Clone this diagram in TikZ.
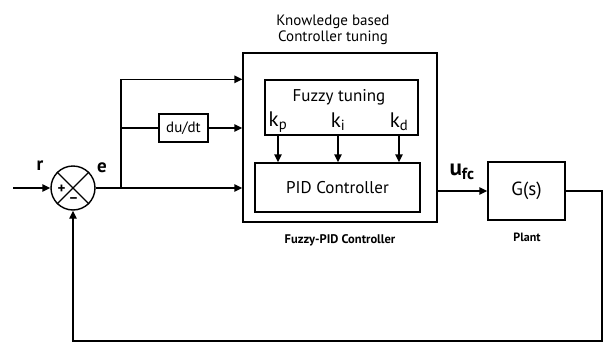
\documentclass[tikz,border=0pt]{standalone}
\usepackage{fontspec}
\setmainfont{PT Sans}
\usetikzlibrary{arrows.meta,calc}
\begin{document}
\begin{tikzpicture}[x=1pt,y=-1pt,
  blk/.style={draw,line width=1.4pt,inner sep=0pt,rectangle},
  conn/.style={line width=1.4pt},
  arr/.style={conn,-{Triangle[length=8pt,width=7.5pt]}},
  txt/.style={inner sep=0pt}]
\useasboundingbox (0,0) rectangle (608,343);
% blocks
\node[blk,minimum width=194pt,minimum height=169pt] (big) at (340,137.5) {};
\node[blk,minimum width=153pt,minimum height=55pt] (fuzzy) at (341.5,107.5) {};
\node[txt,font=\fontsize{17}{19}\selectfont] (fuzzyt) at (339,97) {Fuzzy tuning};
\node[blk,minimum width=165pt,minimum height=49pt,font=\fontsize{17}{19}\selectfont] (pid) at (337.5,187.5) {PID Controller};
\node[blk,minimum width=49pt,minimum height=28pt,font=\fontsize{15}{17}\selectfont] (dudt) at (183.5,128) {du/dt};
\node[blk,minimum width=77pt,minimum height=58pt,font=\fontsize{19}{21}\selectfont] (G) at (526.5,191) {G(s)};
\node[draw,circle,line width=1.4pt,minimum size=44pt,inner sep=0pt] (sum) at (73,188) {};
\draw[conn] (sum.north east) -- (sum.south west);
\draw[conn] (sum.north west) -- (sum.south east);
\node[txt,font=\fontsize{15}{17}\selectfont\bfseries] (plus) at (61.5,189) {+};
\node[txt,font=\fontsize{15}{17}\selectfont\bfseries] (minus) at (73.5,200.5) {\textminus};
% k labels
\node[txt,font=\fontsize{21}{23}\selectfont] (kp) at (278,122) {k\textsubscript{p}};
\node[txt,font=\fontsize{21}{23}\selectfont] (ki) at (338,122) {k\textsubscript{i}};
\node[txt,font=\fontsize{21}{23}\selectfont] (kd) at (399,122) {k\textsubscript{d}};
% texts
\node[txt,align=center,font=\fontsize{15}{16}\selectfont] (kb) at (333,30) {Knowledge based\\Controller tuning};
\node[txt,font=\fontsize{12.5}{14}\selectfont\bfseries] (fpid) at (340,240) {Fuzzy-PID Controller};
\node[txt,font=\fontsize{12}{14}\selectfont\bfseries] (plant) at (527,237) {Plant};
\node[txt,font=\fontsize{19}{21}\selectfont\bfseries] (r) at (40,166) {r};
\node[txt,font=\fontsize{19}{21}\selectfont\bfseries] (e) at (102,168) {e};
\node[txt,font=\fontsize{23}{25}\selectfont\bfseries] (ufc) at (462,172) {u\textsubscript{fc}};
% connectors
\coordinate (in) at (13,188);
\coordinate (br) at (121,188);
\coordinate (c1) at (602,191);
\coordinate (c2) at (602,341);
\draw[arr] (in) -- (sum.west);
\draw[arr] (sum.east) -- (big.west |- sum);
\draw[arr] (br) |- (big.west |- fuzzy.north);
\draw[conn] (br |- dudt) -- (dudt.west);
\draw[arr] (dudt.east) -- (big.west |- dudt);
\draw[arr] (kp |- fuzzy.south) -- (kp |- pid.north);
\draw[arr] (ki |- fuzzy.south) -- (ki |- pid.north);
\draw[arr] (kd |- fuzzy.south) -- (kd |- pid.north);
\draw[arr] (big.east |- G) -- (G.west);
\draw[arr] (G.east) -- (c1) -- (c2) -| (sum.south);
\end{tikzpicture}
\end{document}
